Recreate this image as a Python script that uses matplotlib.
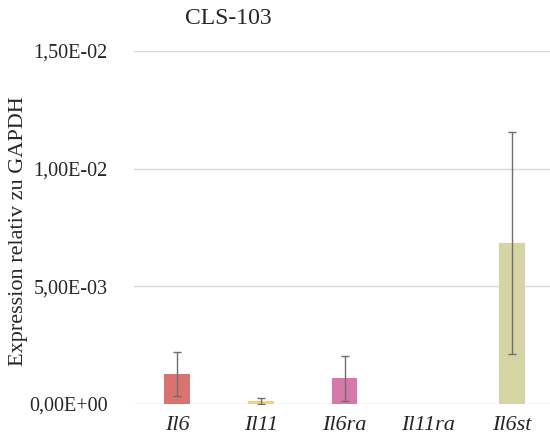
import matplotlib
matplotlib.use("Agg")
import matplotlib.pyplot as plt
from matplotlib.ticker import FuncFormatter

# Daten
genes = ["Il6", "Il11", "Il6ra", "Il11ra", "Il6st"]
werte = [1.27e-3, 1.4e-4, 1.09e-3, 1.0e-5, 6.84e-3]
fehler = [0.95e-3, 1.3e-4, 0.95e-3, 0.0, 4.7e-3]
farben = ["#d9736f", "#f3cf80", "#d678a9", "#d9d9d9", "#d5d4a5"]
yticks = [0, 0.005, 0.010, 0.015]

plt.rcParams["font.family"] = ["Liberation Serif", "DejaVu Serif"]
plt.rcParams["text.color"] = "#262626"

fig = plt.figure(figsize=(5.5, 4.41), dpi=100)
ax = fig.add_axes([134 / 550, 37 / 441, 416 / 550, 353 / 441])

x = list(range(len(genes)))
ax.bar(x, werte, width=0.31, color=farben, zorder=3)
for xi, w, e in zip(x, werte, fehler):
    if e > 0:
        ax.errorbar(xi, w, yerr=e, fmt="none", ecolor="#6e6e6e",
                    elinewidth=1.0, capsize=3, capthick=1.0, zorder=4)

ax.set_ylim(0, 0.015)
ax.set_xlim(-0.52, 4.46)
ax.set_yticks(yticks)
ax.yaxis.set_major_formatter(FuncFormatter(lambda v, p: f"{v:.2E}".replace(".", ",")))
ax.set_xticks(x)
ax.set_xticklabels(genes, style="italic", fontsize=16, color="#262626")
ax.tick_params(axis="y", labelsize=14.5, length=0, pad=19, labelcolor="#262626")
ax.tick_params(axis="x", length=0, pad=9)
ax.grid(axis="y", color="#d9d9d9", linewidth=1, zorder=0)
for s in ax.spines.values():
    s.set_visible(False)

ax.set_ylabel("Expression relativ zu GAPDH", fontsize=16, color="#262626")
ax.yaxis.set_label_coords(-0.255, 0.49)
fig.text(228 / 550, 1 - 18 / 441, "CLS-103", ha="center", va="center", fontsize=17)

fig.savefig("out.png", dpi=100)
